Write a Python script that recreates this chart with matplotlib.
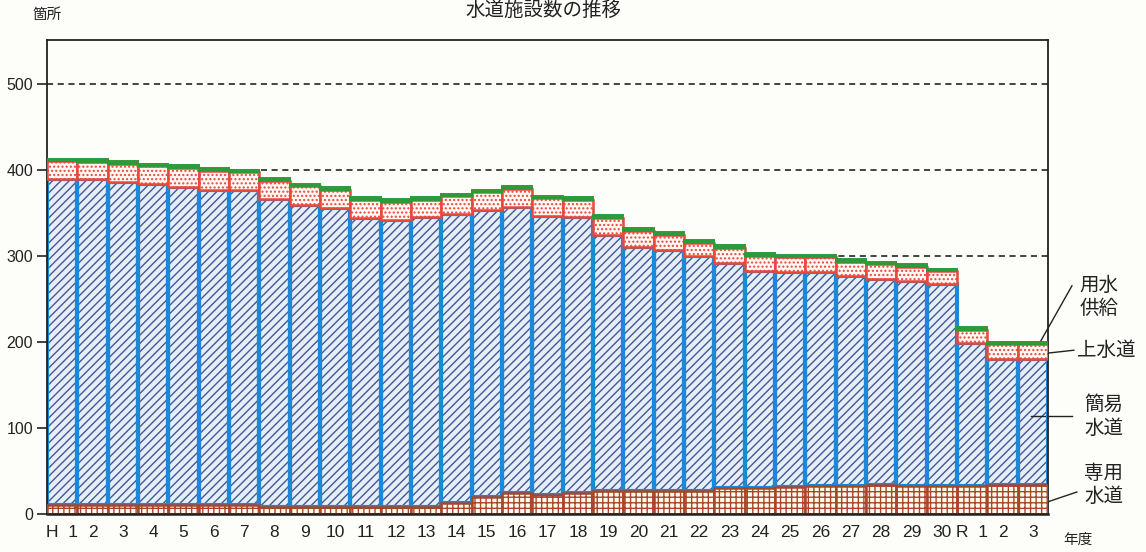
import numpy as np
import matplotlib
matplotlib.use("Agg")
import matplotlib.pyplot as plt

plt.rcParams['font.family'] = ['Noto Sans CJK JP', 'DejaVu Sans']

# --- Data ---
years = ["H  1"] + [str(i) for i in range(2, 31)] + ["R  1", "2", "3"]

# 専用水道 (bottom, brown grid)
senyo = [10, 10, 10, 10, 10, 10, 10, 8, 8, 7, 7, 7, 8, 12, 19, 24, 22,
         24, 26, 26, 26, 26, 30, 30, 31, 32, 32, 33, 32, 32, 32, 33, 33]
# 簡易水道 (blue hatch)
kani = [379, 379, 376, 373, 370, 367, 366, 358, 351, 348, 337, 335, 337,
        337, 334, 333, 324, 321, 298, 284, 281, 274, 261, 252, 250, 249,
        244, 240, 239, 235, 166, 147, 147]
# 上水道 (red dots)
josui = [21, 20, 21, 21, 22, 22, 21, 21, 22, 22, 21, 21, 20, 20, 21, 21,
         21, 20, 20, 19, 17, 15, 18, 18, 17, 17, 17, 17, 16, 15, 16, 17, 17]
# 用水供給 (green, top)
yosui = [3] * 33

x = np.arange(len(years))
senyo = np.array(senyo)
kani = np.array(kani)
josui = np.array(josui)
yosui = np.array(yosui)

# --- Plotting ---
fig = plt.figure(figsize=(11.46, 5.52), dpi=100)
fig.patch.set_facecolor('#fdfdfa')
ax = fig.add_axes([47 / 1146, 1 - 513.5 / 552, 1001 / 1146, 473.5 / 552])
ax.set_facecolor('#fdfdfa')


def hatch_lw(bars, lw):
    for p in bars:
        if hasattr(p, 'set_hatch_linewidth'):
            p.set_hatch_linewidth(lw)


# blue: hatch first, then thick blue outline
b = ax.bar(x, kani, bottom=senyo, width=1.0, color='#e8eef8',
           edgecolor='#405a98', hatch='////', linewidth=0, zorder=2)
hatch_lw(b, 1.0)
ax.bar(x, kani, bottom=senyo, width=1.0, fill=False,
       edgecolor='#1b88d8', linewidth=3.0, zorder=2.5)

# brown grid
b = ax.bar(x, senyo, width=1.0, color='#fffdf0', edgecolor='#a9462a',
           hatch='+++', linewidth=1.8, zorder=3)
hatch_lw(b, 1.0)

# red dots
b = ax.bar(x, josui, bottom=senyo + kani, width=1.0, color='#fff8f4',
           edgecolor='#e9473a', hatch='....', linewidth=1.8, zorder=3)
hatch_lw(b, 1.0)

# green
ax.bar(x, yosui, bottom=senyo + kani + josui, width=1.0, color='#2e9a3a',
       edgecolor='#2e9a3a', linewidth=1.4, zorder=4)

ax.set_xlim(-0.5, len(years) - 0.5)
ax.set_ylim(0, 551)
ax.set_yticks([0, 100, 200, 300, 400, 500])
ax.set_xticks(x)
ax.set_xticklabels(years)
ax.tick_params(axis='x', length=0, pad=8, labelsize=12.5, colors='#222222')
ax.tick_params(axis='y', length=7, width=1.2, direction='out', pad=3,
               labelsize=11.5, colors='#222222')
for lab in ax.get_yticklabels() + ax.get_xticklabels():
    lab.set_family(['Liberation Sans', 'DejaVu Sans'])

ax.yaxis.grid(True, linestyle=(0, (4, 3)), color='#111111', linewidth=1.1)
ax.set_axisbelow(True)
for s in ax.spines.values():
    s.set_linewidth(1.3)
    s.set_color('#222222')
ax.spines['bottom'].set_linewidth(1.8)
ax.spines['bottom'].set_zorder(5)

# --- Series labels at right ---
n = len(years) - 1
tops = senyo + kani + josui + yosui
lab_kw = dict(fontsize=14, linespacing=1.15, va='center', ha='left',
              color='#222222', clip_on=False)
ln_kw = dict(color='#222222', linewidth=1.0, clip_on=False)

ax.text(33.55, 252, "用水\n供給", **lab_kw)
ax.plot([33.29, n + 0.25], [265, tops[n]], **ln_kw)

ax.text(33.45, 190, "上水道", **lab_kw)
ax.plot([33.35, n + 0.1], [190, senyo[n] + kani[n] + josui[n] * 0.3], **ln_kw)

ax.text(33.7, 113, "簡易\n水道", **lab_kw)
ax.plot([33.3, n - 0.05], [113, 113], **ln_kw)

ax.text(33.7, 33, "専用\n水道", **lab_kw)
ax.plot([33.45, n + 0.05], [25, senyo[n] * 0.25], **ln_kw)

fig.text(47 / 1146, 1 - 15 / 552, "箇所", fontsize=10.5, ha='center',
         va='center', color='#222222')
fig.text(1078 / 1146, 1 - 540 / 552, "年度", fontsize=10.5, ha='center',
         va='center', color='#222222')
fig.text(543 / 1146, 1.0, "水道施設数の推移", fontsize=14,
         ha='center', va='top', color='#222222')

fig.savefig("out.png", dpi=100, facecolor=fig.get_facecolor())
